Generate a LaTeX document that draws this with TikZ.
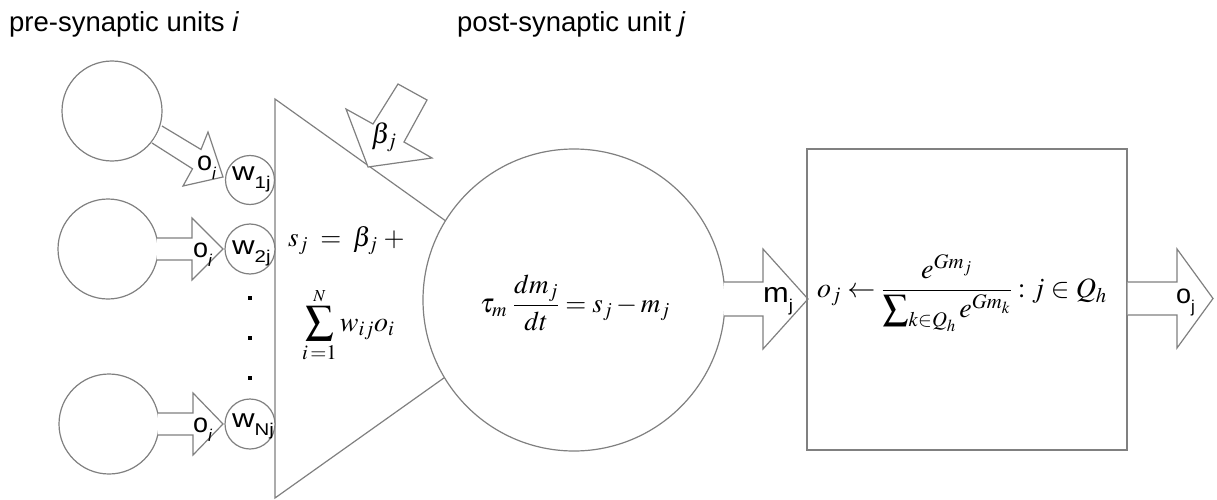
\documentclass[tikz,border=0pt]{standalone}
\usepackage{mathptmx}
\usepackage[no-math]{fontspec}
\newfontfamily\arial{Liberation Sans}
\newfontfamily\warial[FakeStretch=1.2]{Liberation Sans}
\newfontfamily\marial[FakeStretch=1.1]{Liberation Sans}
\newcommand\lsub[1]{\raisebox{-0.34em}{\fontsize{17}{17}\selectfont #1}}
\tikzset{
  ln/.style={draw=black!50, line width=1.2pt, line join=miter},
  unitc/.style={circle, ln, fill=white, inner sep=0pt},
  lab/.style={font=\arial\fontsize{27}{27}\selectfont, inner sep=0pt, anchor=base west},
  wlab/.style={font=\warial\fontsize{26}{26}\selectfont, inner sep=0pt, anchor=base west},
  mlab/.style={font=\marial\fontsize{28}{28}\selectfont, inner sep=0pt, anchor=base west},
  ttl/.style={font=\arial\fontsize{27.5}{27.5}\selectfont, inner sep=0pt, anchor=base west},
  dotsq/.style={fill=black, inner sep=0pt, minimum size=4pt, rectangle},
  barrow/.style={ln, fill=white},
}
\begin{document}
\begin{tikzpicture}[x=1pt,y=-1pt]
\useasboundingbox[fill=white] (0,0) rectangle (1217,500);
% titles
\node[ttl] (t1) at (9,32) {pre-synaptic units \textit{i}};
\node[ttl] (t2) at (457,32) {post-synaptic unit \textit{j}};
% triangle (summation unit)
\draw[ln] (275,99) coordinate (tA) -- (555,299) coordinate (tB) -- (275,498) coordinate (tC) -- cycle;
% pre-synaptic units
\node[unitc, minimum size=100pt] (p1) at (112,111) {};
\node[unitc, minimum size=100pt] (p2) at (108,249) {};
\node[unitc, minimum size=100pt] (p3) at (109,424) {};
% weights
\node[unitc, minimum size=49pt] (w1) at (250,180) {};
\node[unitc, minimum size=50pt] (w2) at (250,249) {};
\node[unitc, minimum size=50pt] (w3) at (250,424) {};
\node[wlab] (w1t) at (232,180) {w\lsub{1j}};
\node[wlab] (w2t) at (232,254) {w\lsub{2j}};
\node[wlab] (w3t) at (232,427) {w\lsub{Nj}};
% dots
\node[dotsq] (d1) at (250,298) {};
\node[dotsq] (d2) at (250,338) {};
\node[dotsq] (d3) at (250,378) {};
% block arrows o_i
\draw[barrow] (162,126) -- (201,149.5) -- (208,132) -- (223,177) -- (183,186) -- (192.5,168.8) -- (152,143);
\draw[barrow] (156.8,238) -- (192,238) -- (192,218) -- (223,249) -- (192,280) -- (192,260) -- (156.8,260);
\draw[barrow] (157.8,413) -- (193,413) -- (193,393) -- (223,424) -- (193,455) -- (193,435) -- (157.8,435);
\node[lab] (o1) at (197,170) {o\lsub{\itshape i}};
\node[lab] (o2) at (193,257) {o\lsub{\itshape i}};
\node[lab] (o3) at (193,432) {o\lsub{\itshape i}};
% beta arrow
\draw[barrow] (368,167) -- (346,109) -- (373,124) -- (398,84) -- (427,100) -- (404,142) -- (432,158) -- cycle;
\node[inner sep=0pt, font=\fontsize{28}{28}\selectfont] (bl) at (384,137) {$\beta_j$};
% triangle formula
\node[inner sep=0pt, anchor=base west, font=\fontsize{27}{27}\selectfont] (f1) at (288,246) {$s_j \;=\; \beta_j \;+$};
\node[inner sep=0pt, anchor=base west, font=\fontsize{28}{28}\selectfont] (f2) at (302,331) {$\displaystyle\sum_{i\,=1}^{\scriptscriptstyle N} w_{ij}o_i$};
% post-synaptic unit
\node[unitc, minimum size=302pt] (post) at (574,300) {};
\node[inner sep=0pt, font=\fontsize{27}{27}\selectfont] (f3) at (575,303) {$\displaystyle\tau_m\;\frac{dm_j}{dt} = s_j - m_j$};
% m_j arrow
\draw[barrow] (723.9,282) -- (763,282) -- (763,249) -- (808,299) -- (763,349) -- (763,316) -- (723.9,316);
\node[mlab] (mj) at (763,302) {m\lsub{j}};
% output box
\node[ln, rectangle, minimum width=320pt, minimum height=301pt, inner sep=0pt] (box) at (967,299.5) {};
\node[inner sep=0pt, font=\fontsize{28}{28}\selectfont] (f4) at (962,293) {$\displaystyle o_j \leftarrow \frac{e^{Gm_j}}{\mathop{\raisebox{-0.08em}{\scalebox{1.3}{$\textstyle\sum$}}}\nolimits_{k\in Q_h} e^{Gm_k}} : j\in Q_h$};
% o_j arrow
\draw[barrow] (box.east |- 0,282) -- (1177,282) -- (1177,249) -- (1213,298.5) -- (1177,348) -- (1177,315) -- (box.east |- 0,315);
\node[lab] (oj) at (1176,303) {o\lsub{j}};
\end{tikzpicture}
\end{document}
